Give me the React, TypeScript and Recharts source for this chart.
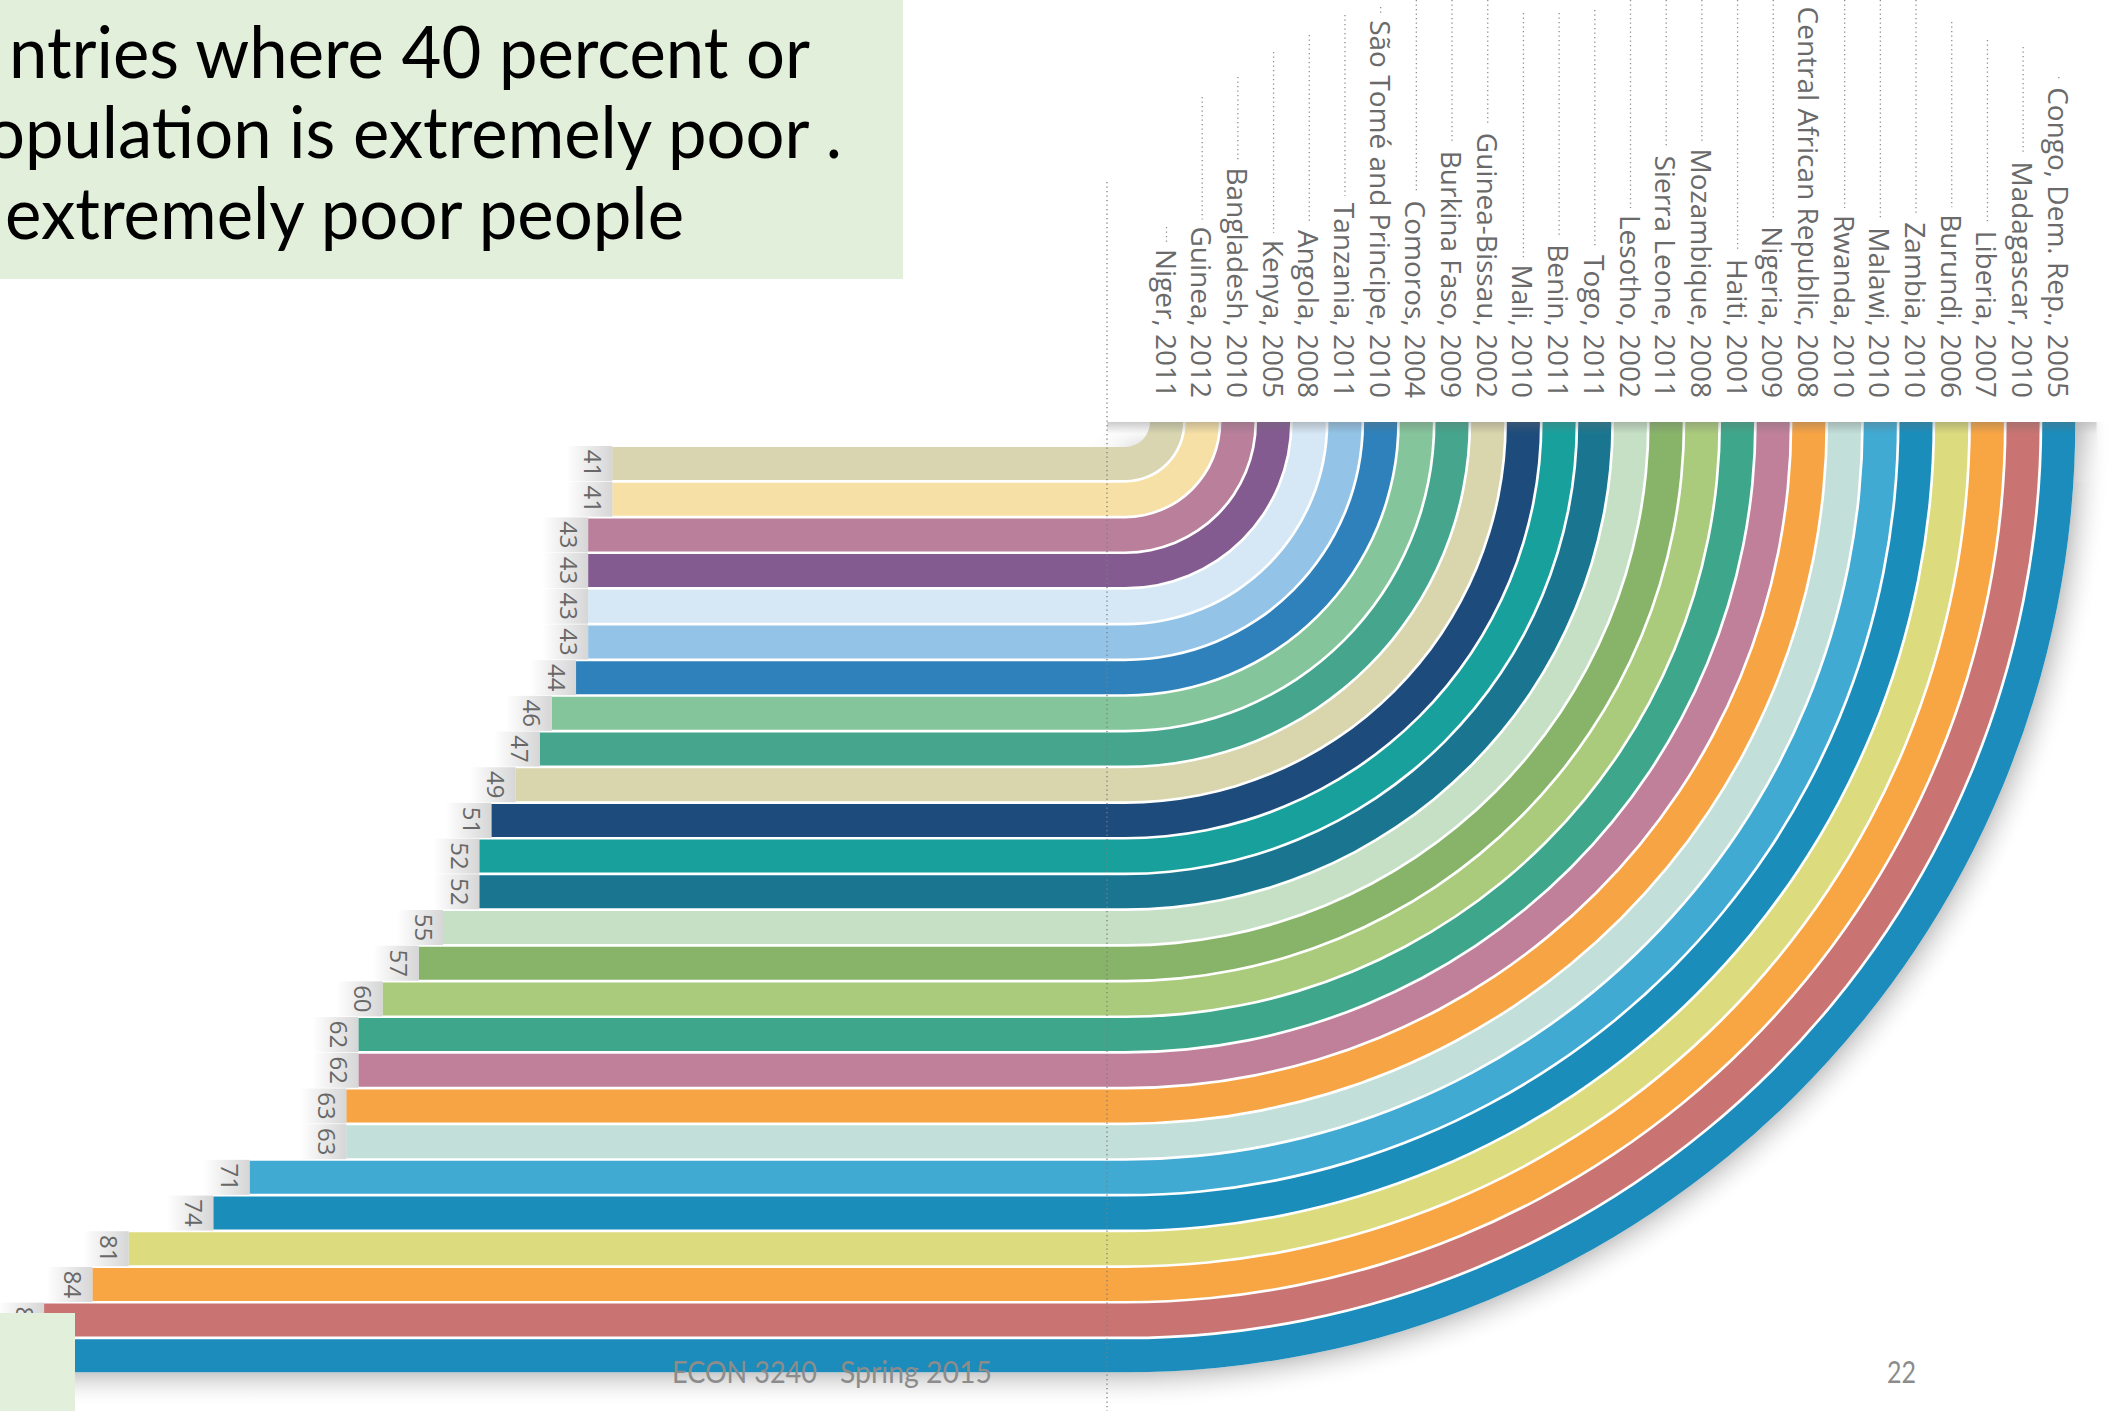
import React, { useLayoutEffect, useRef, useState } from 'react'
import { BarChart, Bar, XAxis, YAxis, LabelList } from 'recharts'

// countries where 40 percent or more of the population is extremely poor
const COUNTRIES = [
  'Niger', 'Guinea', 'Bangladesh', 'Kenya', 'Angola', 'Tanzania', 'São Tomé and Principe',
  'Comoros', 'Burkina Faso', 'Guinea-Bissau', 'Mali', 'Benin', 'Togo', 'Lesotho',
  'Sierra Leone', 'Mozambique', 'Haiti', 'Nigeria', 'Central African Republic', 'Rwanda',
  'Malawi', 'Zambia', 'Burundi', 'Liberia', 'Madagascar', 'Congo, Dem. Rep.',
]
const SURVEY_YEARS = [
  2011, 2012, 2010, 2005, 2008, 2011, 2010, 2004, 2009, 2002, 2010, 2011, 2011,
  2002, 2011, 2008, 2001, 2009, 2008, 2010, 2010, 2010, 2006, 2007, 2010, 2005,
]
const POOR_SHARE = [
  41, 41, 43, 43, 43, 43, 44, 46, 47, 49, 51, 52, 52,
  55, 57, 60, 62, 62, 63, 63, 71, 74, 81, 84, 88, 88,
]
const BAND_COLORS = [
  '#d8d5b0', '#f6e0a6', '#b97f9b', '#845b91', '#d6e7f5', '#93c4e7', '#2e81bb',
  '#85c59b', '#45a68d', '#d9d5ad', '#1d4b7b', '#18a19c', '#1a7690', '#c6e0c6',
  '#88b46a', '#aacb7c', '#3ea78b', '#c0809a', '#f7a444', '#c2dfd9', '#41aad3',
  '#1a8dbb', '#dcdb7e', '#f8a543', '#c97472', '#1b8cbb',
]
// where each dotted leader line above a country name begins (decoration)
const LEADER_TOPS = [
  227, 97, 77, 52, 35, 15, 7, 0, 0, 0, 13, 13, 10,
  0, 0, 0, 0, 0, 0, 0, 0, 0, 22, 40, 47, 77,
]

const rows = COUNTRIES.map((c, i) => ({
  name: `${c}, ${SURVEY_YEARS[i]}`,
  value: POOR_SHARE[i],
  color: BAND_COLORS[i],
}))

const W = 2113
const H = 1411
const ARC_TOP = 422        // where the bands turn vertical and stop
const ZERO_X = 1108        // pixel of 0 percent
const PX_PER_UNIT = 12.09
const FIRST_BAND = 24      // gap between arc top and first band
const ARC_SHIFT = 17
const LABEL_END = 398
const SHADOW = 36
const LAST = rows.length - 1

function CountryLabel({ x, text, top }: { x: number; text: string; top: number }) {
  const ref = useRef<SVGTextElement>(null)
  const [len, setLen] = useState(0)
  useLayoutEffect(() => {
    if (ref.current) setLen(ref.current.getComputedTextLength())
  }, [text])
  const start = LABEL_END - len - 7
  return (
    <g>
      {len > 0 && start > top + 3 && (
        <line x1={x} x2={x} y1={top} y2={start} stroke="#8d8d8d" strokeWidth={1.3} strokeDasharray="1.3 3.2" />
      )}
      <text
        ref={ref}
        x={x}
        y={LABEL_END}
        transform={`rotate(90 ${x} ${LABEL_END})`}
        textAnchor="end"
        dominantBaseline="central"
        fontFamily="'Open Sans', sans-serif"
        fontSize={28}
        fill="#6a6a6a"
      >
        {text}
      </text>
    </g>
  )
}

function BandShape(props: any) {
  const { x, y, width, height, index, payload } = props
  const left = Math.min(x, x + width)
  const right = Math.max(x, x + width)
  const top = Math.min(y, y + height)
  const bottom = Math.max(y, y + height)
  const cx = right + ARC_SHIFT
  const cy = ARC_TOP
  const ri = top - cy
  const ro = bottom - cy
  const d = `M${left},${top} L${cx},${top} A${ri},${ri} 0 0 0 ${cx + ri},${cy} L${cx + ro},${cy} A${ro},${ro} 0 0 1 ${cx},${bottom} L${left},${bottom} Z`
  const mid = cx + (ri + ro) / 2

  const rs = ro + SHADOW
  const arcShadow = `M${cx},${bottom} A${ro},${ro} 0 0 0 ${cx + ro},${cy} L${cx + rs},${cy} A${rs},${rs} 0 0 1 ${cx},${cy + rs} Z`

  return (
    <g>
      {index === 0 && (
        <defs>
          <linearGradient id="stepShade" x1="0" y1="0" x2="1" y2="0">
            <stop offset="0%" stopColor="#c8c8c8" stopOpacity={0} />
            <stop offset="100%" stopColor="#c8c8c8" stopOpacity={0.75} />
          </linearGradient>
          <linearGradient id="panelShade" x1="0" y1="0" x2="0" y2="1">
            <stop offset="0%" stopColor="#6a6a6a" stopOpacity={0.35} />
            <stop offset="100%" stopColor="#6a6a6a" stopOpacity={0} />
          </linearGradient>
          <linearGradient id="edgeShade" x1="0" y1="0" x2="1" y2="1">
            <stop offset="0%" stopColor="#bdbdbd" stopOpacity={0.8} />
            <stop offset="100%" stopColor="#ffffff" stopOpacity={0} />
          </linearGradient>
          <linearGradient id="floorShade" x1="0" y1="0" x2="0" y2="1">
            <stop offset="0%" stopColor="#c9c9c9" stopOpacity={1} />
            <stop offset="100%" stopColor="#ffffff" stopOpacity={0} />
          </linearGradient>
          <radialGradient id="cornerShade" cx="1" cy="1" r="1">
            <stop offset="0%" stopColor="#d6d6d6" stopOpacity={0.9} />
            <stop offset="100%" stopColor="#ffffff" stopOpacity={0} />
          </radialGradient>
        </defs>
      )}
      {index === 0 && (
        <rect x={cx - 45} y={cy} width={45 + ri} height={ri} fill="url(#cornerShade)" />
      )}
      {index === LAST && (
        <g>
          <defs>
            <radialGradient id="arcFloorShade" gradientUnits="userSpaceOnUse" cx={cx} cy={cy} r={rs}>
              <stop offset={`${(ro / rs) * 100}%`} stopColor="#c9c9c9" stopOpacity={1} />
              <stop offset="100%" stopColor="#ffffff" stopOpacity={0} />
            </radialGradient>
          </defs>
          <rect x={0} y={bottom} width={cx} height={SHADOW} fill="url(#floorShade)" />
          <path d={arcShadow} fill="url(#arcFloorShade)" />
        </g>
      )}
      <path d={d} fill={payload.color} />
      <CountryLabel x={mid} text={payload.name} top={LEADER_TOPS[index]} />
      {index === LAST && (
        <g>
          <line x1={right - 1} x2={right - 1} y1={182} y2={H} stroke="#7d7d7d" strokeWidth={1.3} strokeDasharray="1.3 3.2" />
          <rect x={right - 1} y={cy} width={cx + ro - right + 22} height={12} fill="url(#panelShade)" />
          <rect x={cx + ro} y={cy} width={22} height={60} fill="url(#edgeShade)" />
        </g>
      )}
    </g>
  )
}

function ValueLabel(props: any) {
  const vb = props.viewBox ?? props
  const x = props.x ?? vb.x
  const y = props.y ?? vb.y
  const width = props.width ?? vb.width
  const height = props.height ?? vb.height
  const left = Math.min(x, x + width)
  const top = Math.min(y, y + height)
  const midY = top + Math.abs(height) / 2
  const lx = left - 19
  return (
    <g>
      <rect x={left - 46} y={top - 1} width={46} height={Math.abs(height) + 2} fill="url(#stepShade)" />
      <text
        x={lx}
        y={midY}
        transform={`rotate(90 ${lx} ${midY})`}
        textAnchor="middle"
        dominantBaseline="central"
        fontFamily="'Open Sans', sans-serif"
        fontSize={24}
        fill="#686868"
      >
        {props.value}
      </text>
    </g>
  )
}

export default function App() {
  const txt = { fontFamily: "Lato, 'Open Sans', sans-serif", fill: '#000' }
  return (
    <div style={{ position: 'absolute', left: 0, top: 0, width: W, height: H, background: '#fff', overflow: 'hidden' }}>
      <BarChart
        width={W}
        height={H}
        data={rows}
        layout="vertical"
        margin={{ top: ARC_TOP + FIRST_BAND, right: W - ZERO_X, bottom: 37, left: 0 }}
      >
        <XAxis type="number" domain={[0, ZERO_X / PX_PER_UNIT]} reversed hide />
        <YAxis type="category" dataKey="name" hide />
        <Bar dataKey="value" barSize={33} isAnimationActive={false} shape={(p: any) => <BandShape {...p} />}>
          <LabelList dataKey="value" content={ValueLabel} />
        </Bar>
      </BarChart>
      <svg width={W} height={H} style={{ position: 'absolute', left: 0, top: 0 }}>
        <rect x={0} y={0} width={903} height={279} fill="#e2efda" />
        <text x={9} y={78} fontSize={71} textLength={801} lengthAdjust="spacingAndGlyphs" {...txt}>ntries where 40 percent or</text>
        <text x={-14} y={158} fontSize={71} textLength={856} lengthAdjust="spacingAndGlyphs" {...txt}>opulation is extremely poor .</text>
        <text x={5} y={239} fontSize={71} textLength={679} lengthAdjust="spacingAndGlyphs" {...txt}>extremely poor people</text>
        <rect x={0} y={1313} width={75} height={98} fill="#e2efda" />
        <text x={672} y={1383} fontSize={31} textLength={145} lengthAdjust="spacingAndGlyphs" fontFamily="Lato, sans-serif" fill="#8c8c8c">ECON 3240</text>
        <text x={840} y={1383} fontSize={31} textLength={152} lengthAdjust="spacingAndGlyphs" fontFamily="Lato, sans-serif" fill="#8c8c8c">Spring 2015</text>
        <text x={1887} y={1383} fontSize={31} textLength={29} lengthAdjust="spacingAndGlyphs" fontFamily="Lato, sans-serif" fill="#8c8c8c">22</text>
      </svg>
    </div>
  )
}
